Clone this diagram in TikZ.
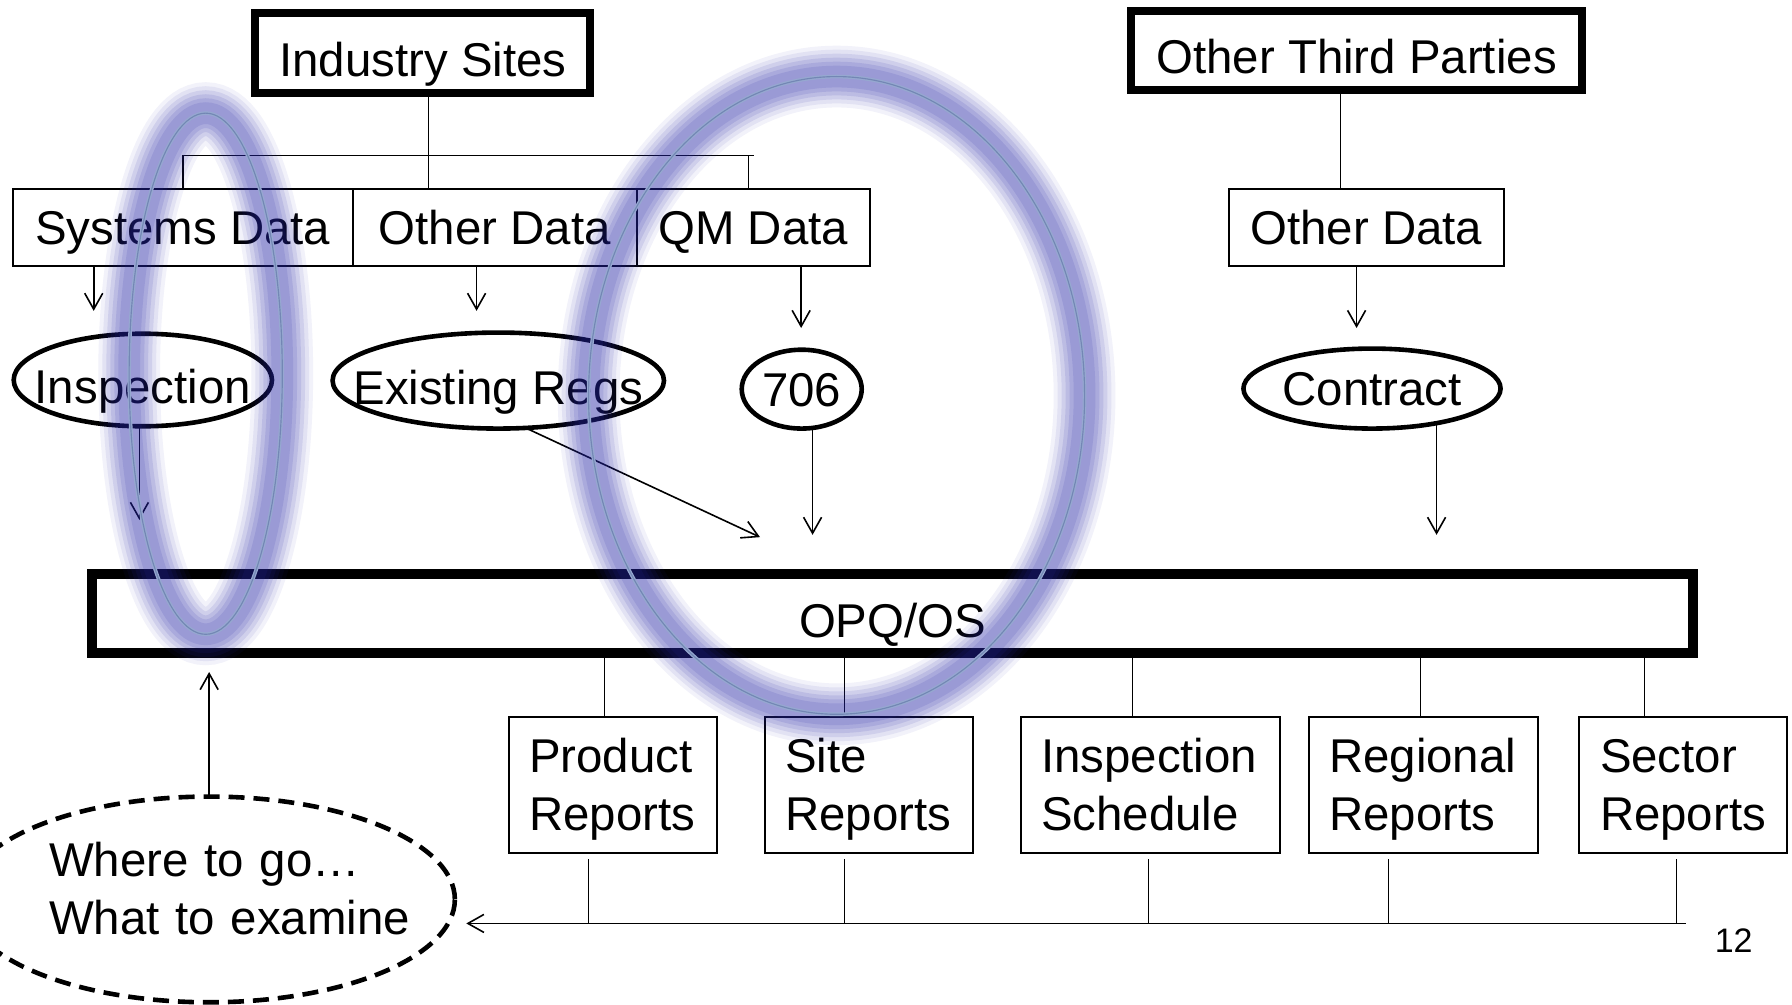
\documentclass[tikz,border=0pt]{standalone}
\usepackage{fontspec}
\setmainfont{Liberation Sans}
\usetikzlibrary{arrows.meta,shapes.geometric,backgrounds,calc}
\def\px{0.5714pt}
\definecolor{glowc}{RGB}{40,40,170}
\definecolor{glowline}{RGB}{150,168,208}
\definecolor{glowcore}{RGB}{115,135,180}
\begin{document}
\begin{tikzpicture}[x=0.5714pt,y=-0.5714pt,
  every node/.style={outer sep=0pt, font=\fontsize{23.7pt}{28.6pt}\selectfont},
  thinbox/.style={draw, rectangle, line width=1pt, inner sep=0pt, fill=white},
  thickbox/.style={draw, rectangle, line width=4pt, inner sep=0pt, fill=white},
  oval/.style={draw, ellipse, line width=2.3pt, inner sep=0pt, fill=white},
  lowtxt/.style={text height=23.7pt, text depth=0pt},
  midtxt/.style={text height=17pt, text depth=0pt},
  report/.style={thinbox, align=left, text height=17pt, text depth=28.6pt, inner xsep=18*\px, minimum height=119*\px},
  arr/.style={-{Straight Barb[length=8pt,width=9pt]}, line width=0.8pt},
  link/.style={line width=0.8pt},
  dashoval/.style={draw, ellipse, line width=2.3pt, dash pattern=on 8pt off 4.5pt, inner sep=0pt}
]
\useasboundingbox (0,0) rectangle (1568,879);
% ---------- nodes ----------
\node[thickbox, lowtxt, minimum width=293*\px, minimum height=70*\px] (is) at (370,46.5) {Industry Sites};
\node[thickbox, lowtxt, minimum width=395*\px, minimum height=69*\px] (otp) at (1187,44) {Other Third Parties};

\node[thinbox, midtxt, minimum width=298*\px, minimum height=68*\px] (sd) at (160,199) {Systems Data};
\node[thinbox, midtxt, minimum width=248*\px, minimum height=68*\px] (od1) at (433,199) {Other Data};
\node[thinbox, midtxt, minimum width=204*\px, minimum height=68*\px] (qm) at (659,199) {QM Data};
\node[thinbox, midtxt, minimum width=241*\px, minimum height=68*\px] (od2) at (1195.5,199) {Other Data};

\node[oval, lowtxt, minimum width=226*\px, minimum height=81*\px] (insp) at (125,332.5) {\makebox[0pt]{Inspection}};
\node[oval, lowtxt, minimum width=290*\px, minimum height=84*\px] (er) at (436,333) {\makebox[0pt]{Existing Regs}};
\node[oval, midtxt, minimum width=105*\px, minimum height=69*\px] (n706) at (701.5,340.5) {\makebox[0pt]{706}};
\node[oval, midtxt, minimum width=225*\px, minimum height=70*\px] (con) at (1200.5,340) {\makebox[0pt]{Contract}};

\node[draw, rectangle, line width=5pt, inner sep=0pt, fill=white, lowtxt, minimum width=1401*\px, minimum height=69*\px] (opq) at (781,537) {OPQ/OS};

\node[report, text width=146*\px] (pr) at (536,686.5) {Product\\Reports};
\node[report, text width=146*\px] (sr) at (760,686.5) {Site\\Reports};
\node[report, text width=191*\px] (isch) at (1006.5,686.5) {Inspection\\Schedule};
\node[report, text width=165*\px] (rr) at (1245.5,686.5) {Regional\\Reports};
\node[report, text width=146*\px] (secr) at (1473,686.5) {Sector\\Reports};

\node[dashoval, minimum width=430*\px, minimum height=180*\px] (wte) at (183,787) {};
\node[anchor=west, align=left, inner sep=0pt, text width=330*\px, text height=17pt, text depth=28.6pt] (wtet) at (43,777.5) {Where to go…\\What to examine};

\node[font=\fontsize{17pt}{20pt}\selectfont, inner sep=0pt] (pg) at (1517,823) {12};

% ---------- coordinates ----------
\coordinate (busM) at (375,136);
\coordinate (busL) at (160,136);
\coordinate (busR) at (660,136);
\coordinate (busQ) at (655,136);
\coordinate (otx) at (1173,120);
\coordinate (a1e) at (82,272);
\coordinate (a2e) at (417,272);
\coordinate (a3e) at (701,287);
\coordinate (a4e) at (1187,287);
\coordinate (b1e) at (122,455);
\coordinate (b2e) at (665,470);
\coordinate (b3e) at (711,468);
\coordinate (b4e) at (1257,468);
\coordinate (cx1) at (529,600);
\coordinate (cx2) at (739,600);
\coordinate (cx3) at (991,600);
\coordinate (cx4) at (1243,600);
\coordinate (cx5) at (1439,600);
\coordinate (dx1) at (515,808);
\coordinate (dx2) at (739,808);
\coordinate (dx3) at (1005,808);
\coordinate (dx4) at (1215,808);
\coordinate (dx5) at (1467,808);
\coordinate (busE) at (1475,808);
\coordinate (tipW) at (408,808);
\coordinate (upE) at (183,588);

% ---------- connectors (behind the nodes) ----------
\begin{pgfonlayer}{background}
\fill[white] (-2,-2) rectangle (1570,881);
\draw[link] (busM |- is.south) -- (busM |- sd.north);
\draw[link] (busL) -- (busR);
\draw[link] (busL) -- (busL |- sd.north);
\draw[link] (busQ) -- (busQ |- qm.north);
\draw[link] (otx |- otp.south) -- (otx |- od2.north);

\draw[arr] (a1e |- sd.south) -- (a1e);
\draw[arr] (a2e |- od1.south) -- (a2e);
\draw[arr] (a3e |- qm.south) -- (a3e);
\draw[arr] (a4e |- od2.south) -- (a4e);

\draw[arr] (b1e |- insp.center) -- (b1e);
\draw[arr] (er.-60) -- (b2e);
\draw[arr] (b3e |- n706.center) -- (b3e);
\draw[arr] (b4e |- con.center) -- (b4e);

\foreach \c/\n in {cx1/pr, cx2/sr, cx3/isch, cx4/rr, cx5/secr}
  \draw[link] (\c |- opq.center) -- (\c |- \n.north);
\foreach \c/\n in {dx1/pr, dx2/sr, dx3/isch, dx4/rr, dx5/secr}
  \draw[link] ($(\c |- \n.south)+(0,6)$) -- (\c);
\draw[arr] (busE) -- (tipW);
\draw[arr] (wte.north) -- (upE);
\end{pgfonlayer}

% ---------- highlight glows ----------
\foreach \w/\o in {54/0.06,47/0.08,40/0.1,33/0.11,26/0.12,19/0.12}{
  \draw[line width=\w*\px, draw=glowc, draw opacity=\o] (180,327) ellipse [x radius=67, y radius=228];
  \draw[line width=\w*\px, draw=glowc, draw opacity=\o] (732,346) ellipse [x radius=217, y radius=279];
}
\draw[line width=3.2*\px, draw=glowline] (180,327) ellipse [x radius=67, y radius=228];
\draw[line width=3.2*\px, draw=glowline] (732,346) ellipse [x radius=217, y radius=279];
\draw[line width=1*\px, draw=glowcore] (180,327) ellipse [x radius=67, y radius=228];
\draw[line width=1*\px, draw=glowcore] (732,346) ellipse [x radius=217, y radius=279];
\end{tikzpicture}
\end{document}
